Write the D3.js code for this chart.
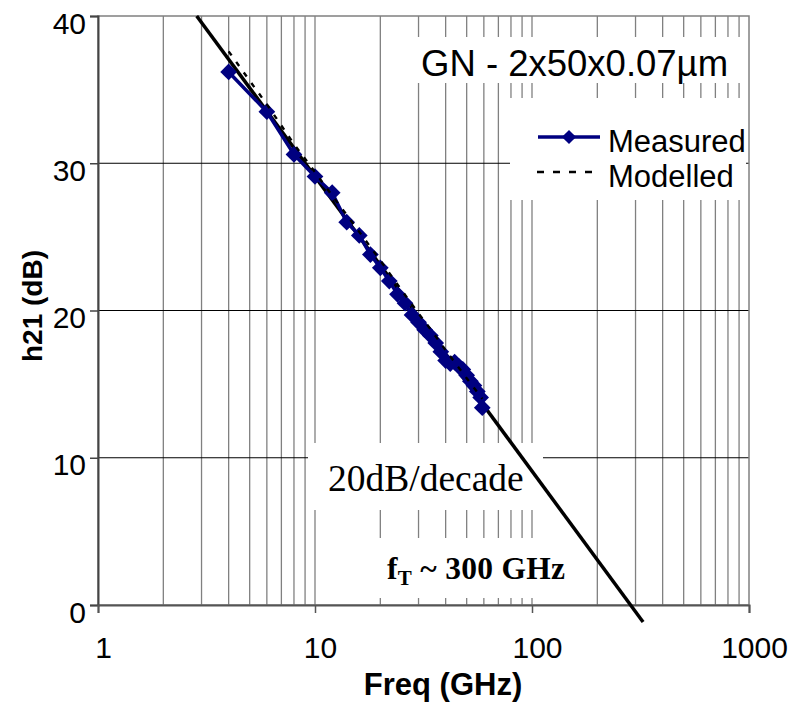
<!DOCTYPE html>
<html>
<head>
<meta charset="utf-8">
<script src="https://cdn.jsdelivr.net/npm/d3@7"></script>
<style>
  body { margin: 0; background: #fff; }
  svg { display: block; }
</style>
</head>
<body>
<script>
// measured h21 (dB) vs frequency (GHz)
const measFreq = [4, 6, 8, 10, 12, 14, 16, 18, 20, 22, 24, 26, 28, 30, 32, 34, 36, 38, 40, 42, 44, 46, 48, 50, 52, 54, 56, 58, 59];
const measDb   = [36.2, 33.5, 30.6, 29.1, 28.0, 26.0, 25.1, 23.8, 22.9, 22.0, 21.1, 20.5, 19.7, 19.2, 18.7, 18.3, 17.8, 17.2, 16.6, 16.4, 16.5, 16.2, 16.0, 15.6, 15.2, 14.9, 14.5, 14.1, 13.4];
// modelled
const modelFreq = [4, 5, 6, 8, 10, 12, 15, 20, 25, 30, 35, 40, 45, 50, 55, 59];
const modelDb   = [37.6, 35.6, 34.0, 31.3, 29.4, 27.8, 25.9, 23.4, 21.4, 19.8, 18.5, 17.3, 16.3, 15.4, 14.6, 14.0];
// 20 dB/decade asymptote
const fitFreq = [2.85, 325];
const fitDb   = [40, -1.15];

const xTicks = [1, 10, 100, 1000];
const yTicks = [0, 10, 20, 30, 40];

const width = 794, height = 705;
const mLeft = 98, mRight = 749, mTop = 16, mBottom = 605;

const svg = d3.select('body').append('svg')
  .attr('width', width)
  .attr('height', height);

const x = d3.scaleLog().domain([1, 1000]).range([mLeft, mRight]);
const y = d3.scaleLinear().domain([0, 40]).range([mBottom, mTop]);

// vertical log grid (2..9 in each decade + decades)
const vGrid = [];
for (let d = 1; d < 1000; d *= 10) {
  for (let k = 1; k <= 9; k++) vGrid.push(d * k);
}
svg.append('g').selectAll('line')
  .data(vGrid.filter(v => v > 1))
  .join('line')
  .attr('x1', d => x(d)).attr('x2', d => x(d))
  .attr('y1', mTop).attr('y2', mBottom)
  .attr('stroke', '#808080')
  .attr('stroke-width', 1.3);

// horizontal grid
svg.append('g').selectAll('line')
  .data([10, 20, 30])
  .join('line')
  .attr('x1', mLeft).attr('x2', mRight)
  .attr('y1', d => y(d)).attr('y2', d => y(d))
  .attr('stroke', '#000')
  .attr('stroke-width', 1);

// plot border
svg.append('rect')
  .attr('x', mLeft).attr('y', mTop)
  .attr('width', mRight - mLeft).attr('height', mBottom - mTop)
  .attr('fill', 'none')
  .attr('stroke', '#808080')
  .attr('stroke-width', 1.5);

// white label boxes
const boxes = [
  [412, 37, 330, 46],   // title
  [510, 98, 236, 102],  // legend
  [308, 443, 235, 67],  // 20dB/decade
  [335, 538, 255, 60]   // fT
];
svg.append('g').selectAll('rect')
  .data(boxes)
  .join('rect')
  .attr('x', d => d[0]).attr('y', d => d[1])
  .attr('width', d => d[2]).attr('height', d => d[3])
  .attr('fill', '#fff');

// axes
const yAxis = svg.append('g').attr('transform', `translate(${mLeft},0)`)
  .call(d3.axisLeft(y).tickValues(yTicks).tickSize(8).tickFormat(d3.format('d')));
yAxis.select('.domain').attr('stroke', '#444').attr('stroke-width', 2);
yAxis.selectAll('.tick line').attr('stroke', '#444').attr('stroke-width', 1.5);
yAxis.selectAll('.tick text')
  .attr('font-family', 'Arial, "Liberation Sans", sans-serif')
  .attr('font-size', 30)
  .attr('fill', '#000')
  .attr('x', -12)
  .attr('dy', 0)
  .attr('y', 17);

const xAxis = svg.append('g').attr('transform', `translate(0,${mBottom})`)
  .call(d3.axisBottom(x).tickValues(xTicks).tickSize(8).tickFormat(d3.format('d')));
xAxis.select('.domain').attr('stroke', '#555').attr('stroke-width', 2);
xAxis.selectAll('.tick line').attr('stroke', '#555').attr('stroke-width', 1.5);
xAxis.selectAll('.tick text')
  .attr('font-family', 'Arial, "Liberation Sans", sans-serif')
  .attr('font-size', 30)
  .attr('fill', '#000')
  .attr('dy', 0)
  .attr('y', 53)
  .attr('x', 5);

// axis titles
svg.append('text')
  .attr('x', 443).attr('y', 695)
  .attr('text-anchor', 'middle')
  .attr('font-family', 'Arial, "Liberation Sans", sans-serif')
  .attr('font-weight', 'bold')
  .attr('font-size', 31)
  .text('Freq (GHz)');

svg.append('text')
  .attr('transform', 'translate(42,306) rotate(-90)')
  .attr('text-anchor', 'middle')
  .attr('font-family', 'Arial, "Liberation Sans", sans-serif')
  .attr('font-weight', 'bold')
  .attr('font-size', 28)
  .text('h21 (dB)');

// asymptote
const line = d3.line().x(d => x(d[0])).y(d => y(d[1]));
svg.append('path')
  .datum(d3.zip(fitFreq, fitDb))
  .attr('d', line)
  .attr('fill', 'none')
  .attr('stroke', '#000')
  .attr('stroke-width', 3.5);

// measured
const meas = d3.zip(measFreq, measDb);
svg.append('path')
  .datum(meas)
  .attr('d', line)
  .attr('fill', 'none')
  .attr('stroke', '#000080')
  .attr('stroke-width', 3.5);

svg.append('g').selectAll('path')
  .data(meas)
  .join('path')
  .attr('transform', d => `translate(${x(d[0])},${y(d[1])}) rotate(45)`)
  .attr('d', d3.symbol().type(d3.symbolSquare).size(140))
  .attr('fill', '#000080');

// modelled
svg.append('path')
  .datum(d3.zip(modelFreq, modelDb))
  .attr('d', line)
  .attr('fill', 'none')
  .attr('stroke', '#000')
  .attr('stroke-width', 2.4)
  .attr('stroke-dasharray', '5,8');

// title
svg.append('text')
  .attr('x', 421).attr('y', 76)
  .attr('font-family', 'Arial, "Liberation Sans", sans-serif')
  .attr('font-size', 36.5)
  .text('GN - 2x50x0.07µm');

// legend
const lg = svg.append('g');
lg.append('line')
  .attr('x1', 538).attr('x2', 600).attr('y1', 137).attr('y2', 137)
  .attr('stroke', '#000080').attr('stroke-width', 3.5);
lg.append('path')
  .attr('transform', 'translate(569,137) rotate(45)')
  .attr('d', d3.symbol().type(d3.symbolSquare).size(100))
  .attr('fill', '#000080');
lg.append('line')
  .attr('x1', 537).attr('x2', 600).attr('y1', 172).attr('y2', 172)
  .attr('stroke', '#000').attr('stroke-width', 2.4)
  .attr('stroke-dasharray', '7,9');
lg.selectAll('text')
  .data(['Measured', 'Modelled'])
  .join('text')
  .attr('x', 608)
  .attr('y', (d, i) => 152 + i * 35)
  .attr('font-family', 'Arial, "Liberation Sans", sans-serif')
  .attr('font-size', 31)
  .text(d => d);

// annotations
svg.append('text')
  .attr('x', 328).attr('y', 491)
  .attr('font-family', '"Times New Roman", "Liberation Serif", serif')
  .attr('font-size', 37.5)
  .text('20dB/decade');

const ft = svg.append('text')
  .attr('x', 387).attr('y', 579)
  .attr('font-family', '"Times New Roman", "Liberation Serif", serif')
  .attr('font-weight', 'bold')
  .attr('font-size', 31.5)
  .attr('letter-spacing', 0.3);
ft.append('tspan').text('f');
ft.append('tspan').attr('font-size', 21).attr('dy', 6).text('T');
ft.append('tspan').attr('dy', -6).text(' ~ 300 GHz');
</script>
</body>
</html>
